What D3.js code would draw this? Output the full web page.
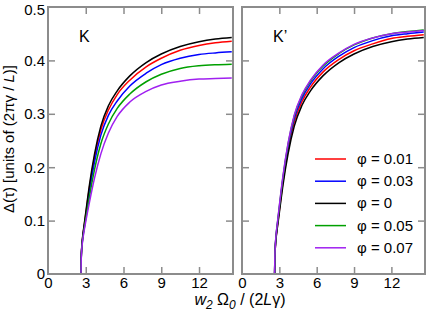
<!DOCTYPE html>
<html><head><meta charset="utf-8">
<script src="https://cdn.jsdelivr.net/npm/d3@7"></script>
<style>
html,body{margin:0;padding:0;background:#fff;}
svg{display:block;}
text{font-family:"Liberation Sans",Arial,sans-serif;}
</style></head>
<body>
<script>
// ---- data ----
const xGrid = [2.62, 2.64, 2.68, 2.74, 2.85, 3.0, 3.3, 3.7, 4.2, 4.8, 5.5, 6.5, 7.8, 9, 10.5, 12, 13.3, 14.6];
const seriesNames = ["φ = 0.01", "φ = 0.03", "φ = 0", "φ = 0.05", "φ = 0.07"];
const seriesColors = ["#ff0000", "#0000ff", "#000000", "#00a000", "#a020f0"];
// panel K
const K_phi001 = [0, 0.03, 0.049, 0.066, 0.086, 0.112, 0.163, 0.219, 0.27, 0.307, 0.336, 0.363, 0.388, 0.404, 0.419, 0.428, 0.433, 0.436];
const K_phi003 = [0, 0.029, 0.048, 0.064, 0.084, 0.108, 0.156, 0.21, 0.26, 0.297, 0.324, 0.352, 0.376, 0.392, 0.404, 0.411, 0.414, 0.416];
const K_phi0   = [0, 0.03, 0.05, 0.067, 0.088, 0.115, 0.168, 0.225, 0.277, 0.315, 0.343, 0.371, 0.396, 0.412, 0.426, 0.435, 0.44, 0.443];
const K_phi005 = [0, 0.028, 0.047, 0.062, 0.081, 0.103, 0.146, 0.196, 0.244, 0.281, 0.31, 0.337, 0.36, 0.374, 0.385, 0.39, 0.392, 0.393];
const K_phi007 = [0, 0.027, 0.045, 0.06, 0.078, 0.098, 0.135, 0.18, 0.225, 0.264, 0.295, 0.322, 0.342, 0.354, 0.361, 0.365, 0.366, 0.367];
// panel K'
const Kp_phi001 = [0, 0.031, 0.051, 0.069, 0.091, 0.119, 0.174, 0.232, 0.285, 0.322, 0.35, 0.378, 0.402, 0.418, 0.431, 0.441, 0.445, 0.448];
const Kp_phi003 = [0, 0.032, 0.053, 0.071, 0.094, 0.123, 0.179, 0.238, 0.291, 0.328, 0.356, 0.384, 0.408, 0.424, 0.437, 0.446, 0.45, 0.453];
const Kp_phi0   = [0, 0.03, 0.05, 0.067, 0.088, 0.115, 0.168, 0.225, 0.277, 0.315, 0.343, 0.371, 0.396, 0.412, 0.426, 0.435, 0.44, 0.443];
const Kp_phi005 = [0, 0.033, 0.054, 0.073, 0.096, 0.126, 0.183, 0.243, 0.296, 0.333, 0.361, 0.389, 0.413, 0.429, 0.442, 0.45, 0.454, 0.457];
const Kp_phi007 = [0, 0.033, 0.055, 0.074, 0.097, 0.128, 0.185, 0.245, 0.298, 0.335, 0.363, 0.391, 0.414, 0.43, 0.442, 0.45, 0.453, 0.456];
const xTicks = [0, 3, 6, 9, 12];
const yTicks = [0, 0.1, 0.2, 0.3, 0.4, 0.5];
const yTickLabels = ["0", "0.1", "0.2", "0.3", "0.4", "0.5"];

const W = 429, H = 316;
const svg = d3.select("body").append("svg").attr("width", W).attr("height", H);

const plotTop = 7, plotBottom = 274;
const panels = [
  {name: "K", x0: 48, x1: 233, data: [K_phi001, K_phi003, K_phi0, K_phi005, K_phi007], showY: true, legend: false},
  {name: "K’", x0: 242, x1: 425, data: [Kp_phi001, Kp_phi003, Kp_phi0, Kp_phi005, Kp_phi007], showY: false, legend: true}
];
const y = d3.scaleLinear().domain([0, 0.5]).range([plotBottom, plotTop]);
const axisColor = "#8c8c8c";

panels.forEach((p, pi) => {
  const x = d3.scaleLinear().domain([0, 14.7]).range([p.x0, p.x1]);
  const g = svg.append("g");
  const clipId = "clip" + pi;
  svg.append("clipPath").attr("id", clipId).append("rect")
    .attr("x", p.x0).attr("y", plotTop).attr("width", p.x1 - p.x0).attr("height", plotBottom - plotTop);

  const line = d3.line().x(d => x(d[0])).y(d => y(d[1])).curve(d3.curveMonotoneX);
  p.data.forEach((vals, si) => {
    g.append("path")
      .attr("d", line(xGrid.map((xv, i) => [xv, vals[i]])))
      .attr("fill", "none").attr("stroke", seriesColors[si]).attr("stroke-width", 1.5)
      .attr("clip-path", `url(#${clipId})`);
  });

  const tl = 7;
  const bAx = d3.axisBottom(x).tickValues(xTicks).tickSize(-tl).tickPadding(3).tickFormat(d3.format("d"));
  const tAx = d3.axisTop(x).tickValues(xTicks.filter(v => v > 0)).tickSize(-tl).tickFormat("");
  const lAx = d3.axisLeft(y).tickValues(yTicks).tickSize(-tl).tickPadding(3).tickFormat((d, i) => p.showY ? yTickLabels[i] : "");
  const rAx = d3.axisRight(y).tickValues(yTicks.filter(v => v > 0 && v < 0.5)).tickSize(-tl).tickFormat("");
  const gb = g.append("g").attr("transform", `translate(0,${plotBottom})`).call(bAx);
  const gt = g.append("g").attr("transform", `translate(0,${plotTop})`).call(tAx);
  const gl = g.append("g").attr("transform", `translate(${p.x0},0)`).call(lAx);
  const gr = g.append("g").attr("transform", `translate(${p.x1},0)`).call(rAx);
  [gb, gt, gl, gr].forEach(a => {
    a.select(".domain").remove();
    a.selectAll(".tick line").attr("stroke", axisColor).attr("stroke-width", 1.5);
    a.selectAll(".tick text").attr("fill", "#000").attr("font-size", 15)
      .attr("font-family", "Liberation Sans, Arial, sans-serif");
  });
  gl.selectAll(".tick line").attr("stroke", d => (d === 0 || d === 0.5) ? "none" : axisColor);
  gl.selectAll(".tick text").attr("dy", d => d === 0.5 ? "0.5em" : "0.32em");
  gb.selectAll(".tick line").attr("stroke", d => d === 0 ? "none" : axisColor);

  g.append("rect").attr("x", p.x0).attr("y", plotTop).attr("width", p.x1 - p.x0).attr("height", plotBottom - plotTop)
    .attr("fill", "none").attr("stroke", axisColor).attr("stroke-width", 2);

  g.append("text").attr("x", p.x0 + 31).attr("y", 42).attr("font-size", 16).text(p.name);

  if (p.legend) {
    const lg = g.append("g");
    seriesNames.forEach((n, i) => {
      const yy = 159 + i * 22.2;
      lg.append("line").attr("x1", 315).attr("x2", 346).attr("y1", yy).attr("y2", yy)
        .attr("stroke", seriesColors[i]).attr("stroke-width", 1.5);
      lg.append("text").attr("x", 357).attr("y", yy + 5).attr("font-size", 15)
        .attr("font-family", "Liberation Serif, Times New Roman, serif").text(n);
    });
  }
});

const yl = svg.append("text").attr("transform", "translate(14,139) rotate(-90)")
  .attr("text-anchor", "middle").attr("font-size", 15);
yl.append("tspan").text("Δ(τ)  [units of (2πγ / ");
yl.append("tspan").attr("font-style", "italic").text("L");
yl.append("tspan").text(")]");

const xl = svg.append("text").attr("x", 240).attr("y", 305).attr("text-anchor", "middle").attr("font-size", 16);
xl.append("tspan").attr("font-style", "italic").text("w");
xl.append("tspan").attr("font-style", "italic").attr("font-size", 12).attr("dy", 4).text("2");
xl.append("tspan").attr("dy", -4).text(" Ω");
xl.append("tspan").attr("font-style", "italic").attr("font-size", 12).attr("dy", 4).text("0");
xl.append("tspan").attr("dy", -4).text(" / (2");
xl.append("tspan").attr("font-style", "italic").text("L");
xl.append("tspan").text("γ)");
</script>
</body></html>
